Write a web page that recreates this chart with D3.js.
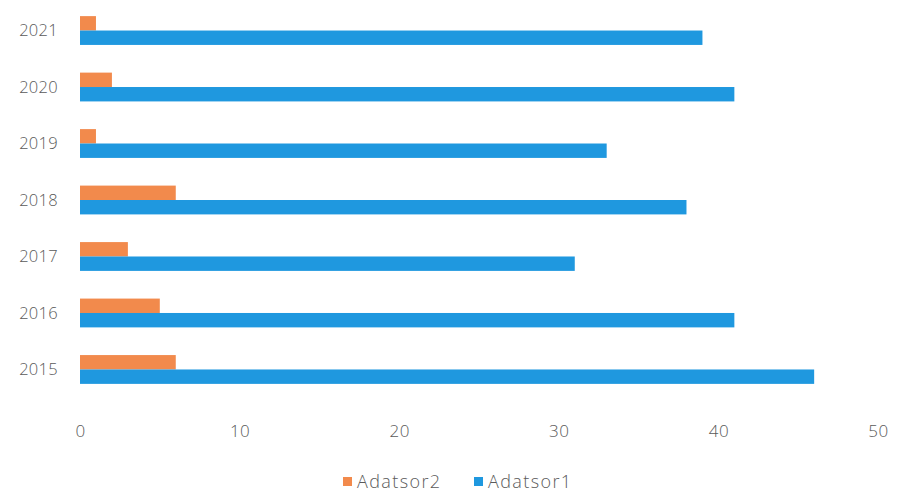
<!DOCTYPE html>
<html><head><meta charset="utf-8">
<script src="https://cdn.jsdelivr.net/npm/d3@7"></script>
<style>body{margin:0;background:#fff}svg{display:block}</style>
</head><body>
<svg id="c" width="897" height="492"></svg>
<script>
const categories = ["2021","2020","2019","2018","2017","2016","2015"];
const series2 = [1, 2, 1, 6, 3, 5, 6];      // Adatsor2 (orange)
const series1 = [39, 41, 33, 38, 31, 41, 46]; // Adatsor1 (blue)
const xTicks = [0, 10, 20, 30, 40, 50];
const seriesNames = ["Adatsor2", "Adatsor1"];
const colors = ["#F28A4C", "#1F98DF"];

const svg = d3.select("#c");
const font = "'Open Sans', 'Liberation Sans', sans-serif";
const x = d3.scaleLinear().domain([0, 50]).range([80, 878]);
const y = d3.scaleBand().domain(categories).range([2, 398]).paddingInner(0.49).paddingOuter(0.25);
const inner = d3.scaleBand().domain([0, 1]).range([0, y.bandwidth()]);

const data = categories.map((c, i) => ({c, vals: [series2[i], series1[i]]}));
const g = svg.append("g");
data.forEach(d => {
  d.vals.forEach((v, k) => {
    g.append("rect")
      .attr("x", x(0))
      .attr("y", y(d.c) + inner(k))
      .attr("width", x(v) - x(0))
      .attr("height", inner.bandwidth())
      .attr("fill", colors[k]);
  });
});

// y axis labels
const ya = svg.append("g").attr("transform", `translate(${x(0) - 22},0)`)
  .call(d3.axisLeft(y).tickSize(0).tickPadding(0));
ya.select(".domain").remove();
ya.selectAll("text").attr("font-family", font).attr("font-size", 16.5).attr("fill", "#5a5a5a")
  .attr("font-weight", 300).attr("letter-spacing", 0.3).attr("dy", "0.35em");

// x axis labels
const xa = svg.append("g").attr("transform", `translate(0,425)`)
  .call(d3.axisBottom(x).tickValues(xTicks).tickSize(0).tickPadding(0));
xa.select(".domain").remove();
xa.selectAll("text").attr("font-family", font).attr("font-size", 17).attr("fill", "#5a5a5a")
  .attr("font-weight", 300).attr("letter-spacing", 0.5);

// legend
const lg = svg.append("g").attr("transform", "translate(343,476)");
const items = [{n: seriesNames[0], c: colors[0], dx: 0}, {n: seriesNames[1], c: colors[1], dx: 131}];
items.forEach(it => {
  const gi = lg.append("g").attr("transform", `translate(${it.dx},0)`);
  gi.append("rect").attr("x", 0).attr("y", 1).attr("width", 9).attr("height", 9).attr("fill", it.c);
  gi.append("text").attr("x", 14).attr("y", 12).attr("font-family", font).attr("font-size", 18)
    .attr("font-weight", 300).attr("letter-spacing", 1.4)
    .attr("fill", "#5a5a5a").text(it.n);
});
</script>
</body></html>
